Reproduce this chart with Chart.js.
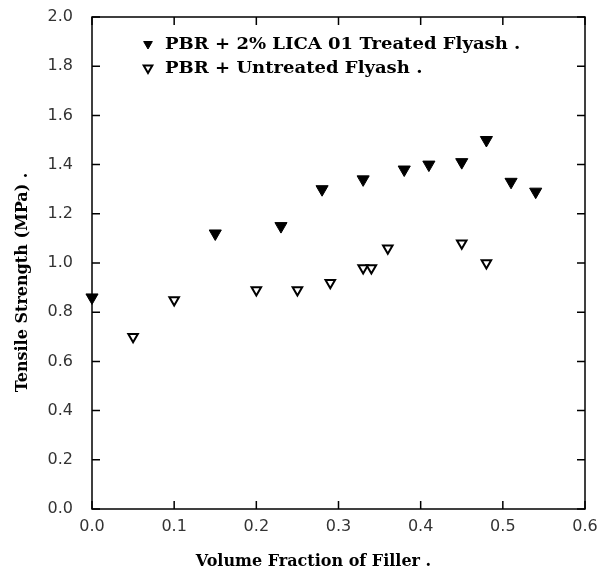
<!DOCTYPE html>
<html>
<head>
<meta charset="utf-8">
<script src="https://cdn.jsdelivr.net/npm/chart.js@4"></script>
<style>
  html, body { margin: 0; padding: 0; background: #fff; }
  #wrap { width: 598px; height: 578px; }
</style>
</head>
<body>
<div id="wrap"><canvas id="chart" width="598" height="578"></canvas></div>
<script>
// series
var treatedX = [0.0, 0.15, 0.23, 0.28, 0.33, 0.38, 0.41, 0.45, 0.48, 0.51, 0.54];
var treatedY = [0.86, 1.12, 1.15, 1.30, 1.34, 1.38, 1.40, 1.41, 1.50, 1.33, 1.29];
var untreatedX = [0.05, 0.10, 0.20, 0.25, 0.29, 0.33, 0.34, 0.36, 0.45, 0.48];
var untreatedY = [0.70, 0.85, 0.89, 0.89, 0.92, 0.98, 0.98, 1.06, 1.08, 1.00];
var seriesLabels = ["PBR + 2% LICA 01 Treated Flyash .", "PBR + Untreated Flyash ."];
var xTicks = [0.0, 0.1, 0.2, 0.3, 0.4, 0.5, 0.6];
var yTicks = [0.0, 0.2, 0.4, 0.6, 0.8, 1.0, 1.2, 1.4, 1.6, 1.8, 2.0];

function toPoints(xs, ys) {
  return xs.map(function (x, i) { return { x: x, y: ys[i] }; });
}

var typeFont = { family: "'DejaVu Serif', serif", size: 16, weight: "bold" };
var tickFont = { family: "'DejaVu Sans', sans-serif", size: 16 };

// frame + inward ticks on all four sides
var framePlugin = {
  id: "frame",
  afterDraw: function (chart) {
    var ctx = chart.ctx;
    var a = chart.chartArea;
    var xs = chart.scales.x, ys = chart.scales.y;
    var len = 8;
    ctx.save();
    ctx.strokeStyle = "#000";
    ctx.lineWidth = 1.5;
    ctx.strokeRect(a.left, a.top, a.right - a.left, a.bottom - a.top);
    ctx.beginPath();
    xTicks.forEach(function (v) {
      var px = xs.getPixelForValue(v);
      ctx.moveTo(px, a.bottom); ctx.lineTo(px, a.bottom - len);
      ctx.moveTo(px, a.top); ctx.lineTo(px, a.top + len);
    });
    yTicks.forEach(function (v) {
      var py = ys.getPixelForValue(v);
      ctx.moveTo(a.left, py); ctx.lineTo(a.left + len, py);
      ctx.moveTo(a.right, py); ctx.lineTo(a.right - len, py);
    });
    ctx.stroke();
    ctx.restore();
  }
};

// legend written inside the plot, top-left
var legendPlugin = {
  id: "innerLegend",
  afterDatasetsDraw: function (chart) {
    var ctx = chart.ctx;
    var a = chart.chartArea;
    ctx.save();
    ctx.font = "bold 17px 'DejaVu Serif', serif";
    ctx.textBaseline = "middle";
    chart.data.datasets.forEach(function (ds, i) {
      var y = a.top + 27 + i * 24;
      var mx = a.left + 56;
      var r = 5;
      ctx.fillStyle = ds.backgroundColor;
      ctx.strokeStyle = "#000";
      ctx.lineWidth = ds.borderWidth;
      ctx.beginPath();
      ctx.moveTo(mx - r * 0.866, y - r * 0.5);
      ctx.lineTo(mx + r * 0.866, y - r * 0.5);
      ctx.lineTo(mx, y + r);
      ctx.closePath();
      ctx.fill();
      ctx.stroke();
      // the old lettering is wide: stretch the text a little
      ctx.save();
      ctx.translate(mx + 17, y + 1);
      ctx.scale(1.06, 1);
      ctx.fillStyle = "#000";
      ctx.fillText(ds.label, 0, 0);
      ctx.restore();
    });
    ctx.restore();
  }
};

var config = {
  type: "scatter",
  data: {
    datasets: [
      {
        label: seriesLabels[0],
        data: toPoints(treatedX, treatedY),
        pointStyle: "triangle",
        rotation: 180,
        pointRadius: 7,
        backgroundColor: "#000",
        borderColor: "#000",
        borderWidth: 1,
        clip: false,
      },
      {
        label: seriesLabels[1],
        data: toPoints(untreatedX, untreatedY),
        pointStyle: "triangle",
        rotation: 180,
        pointRadius: 5.5,
        backgroundColor: "#fff",
        borderColor: "#000",
        borderWidth: 2,
        clip: false,
      },
    ],
  },
  options: {
    responsive: false,
    animation: false,
    layout: { padding: { top: 17, right: 13, left: 0, bottom: 0 } },
    plugins: {
      legend: { display: false },
      tooltip: { enabled: false },
    },
    scales: {
      x: {
        type: "linear",
        min: 0,
        max: 0.6,
        afterBuildTicks: function (axis) {
          axis.ticks = xTicks.map(function (v) { return { value: v }; });
        },
        afterFit: function (axis) {
          axis.height = 69;
          axis.paddingLeft = 0;
          axis.paddingRight = 0;
        },
        grid: { display: false, drawTicks: false },
        border: { display: false },
        ticks: {
          color: "#333",
          padding: 8,
          maxRotation: 0,
          font: tickFont,
          callback: function (v) { return v.toFixed(1); },
        },
        title: {
          display: true,
          // trailing spaces nudge the title left, as in the original
          text: "Volume Fraction of Filler .         ",
          color: "#000",
          font: typeFont,
          padding: { top: 0, bottom: 7 },
        },
      },
      y: {
        type: "linear",
        min: 0,
        max: 2.0,
        afterBuildTicks: function (axis) {
          axis.ticks = yTicks.map(function (v) { return { value: v }; });
        },
        afterFit: function (axis) {
          axis.width = 92;
          axis.paddingTop = 0;
          axis.paddingBottom = 0;
        },
        grid: { display: false, drawTicks: false },
        border: { display: false },
        ticks: {
          color: "#333",
          padding: 19,
          font: tickFont,
          callback: function (v) { return v.toFixed(1); },
        },
        title: {
          display: true,
          text: "Tensile Strength (MPa) .       ",
          color: "#000",
          font: typeFont,
          padding: { top: 13, bottom: 0 },
        },
      },
    },
  },
  plugins: [framePlugin, legendPlugin],
};

window.onload = function () {
  var ctx = document.getElementById("chart").getContext("2d");
  window.myChart = new Chart(ctx, config);
};
</script>
</body>
</html>
